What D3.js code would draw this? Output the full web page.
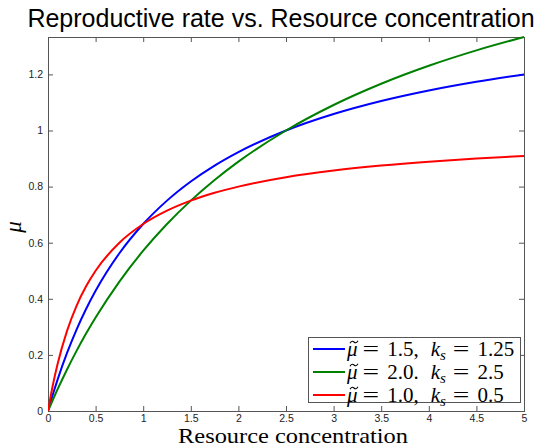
<!DOCTYPE html>
<html>
<head>
<meta charset="utf-8">
<script src="https://cdn.jsdelivr.net/npm/d3@7"></script>
<style>
  html, body { margin: 0; padding: 0; background: #fff; }
  svg { display: block; }
</style>
</head>
<body>
<script>
// Resource concentration samples
const resource = [0, 0.05, 0.1, 0.2, 0.3, 0.4, 0.5, 0.75, 1, 1.25, 1.5, 1.75, 2, 2.5, 3, 3.5, 4, 4.5, 5];

// Reproductive rate for each parameter set
const muBlue  = [0, 0.0577, 0.1111, 0.2069, 0.2903, 0.3636, 0.4286, 0.5625, 0.6667, 0.75, 0.8182, 0.875, 0.9231, 1.0, 1.0588, 1.1053, 1.1429, 1.1739, 1.2];
const muGreen = [0, 0.0392, 0.0769, 0.1481, 0.2143, 0.2759, 0.3333, 0.4615, 0.5714, 0.6667, 0.75, 0.8235, 0.8889, 1.0, 1.0909, 1.1667, 1.2308, 1.2857, 1.3333];
const muRed   = [0, 0.0909, 0.1667, 0.2857, 0.375, 0.4444, 0.5, 0.6, 0.6667, 0.7143, 0.75, 0.7778, 0.8, 0.8333, 0.8571, 0.875, 0.8889, 0.9, 0.9091];

// Legend entries: μ̃ value, separator, k_s value
const legendMu  = ["1.5", "2.0", "1.0"];
const legendSep = [",", ".", ","];
const legendKs  = ["1.25", "2.5", "0.5"];

const seriesColors = ["#0000ff", "#008000", "#ff0000"];
const seriesValues = [muBlue, muGreen, muRed];

const xTicks = [0, 0.5, 1, 1.5, 2, 2.5, 3, 3.5, 4, 4.5, 5];
const yTicks = [0, 0.2, 0.4, 0.6, 0.8, 1, 1.2];

const W = 542, H = 448;
const plot = { left: 48, right: 524, top: 37, bottom: 411 };

const svg = d3.select("body").append("svg").attr("width", W).attr("height", H);

const x = d3.scaleLinear().domain([0, 5]).range([plot.left, plot.right]);
const y = d3.scaleLinear().domain([0, 4 / 3]).range([plot.bottom, plot.top]);

const axisColor = "#555";
const sans = "Liberation Sans, Arial, sans-serif";
const serif = "Liberation Serif, 'Times New Roman', serif";

// Title
svg.append("text")
  .attr("x", 281).attr("y", 27)
  .attr("text-anchor", "middle")
  .attr("font-family", sans)
  .attr("font-size", 25)
  .attr("fill", "#000")
  .text("Reproductive rate vs. Resource concentration");

// Axes with inward ticks on all four sides
function styleAxis(g) {
  g.select(".domain").remove();
  g.selectAll(".tick line").attr("stroke", axisColor).attr("stroke-width", 1);
  g.selectAll(".tick text").attr("font-family", sans).attr("font-size", 10.5).attr("fill", "#222");
}

svg.append("g").attr("transform", `translate(0,${plot.bottom})`)
  .call(d3.axisBottom(x).tickValues(xTicks).tickFormat(d3.format("")).tickSize(-5).tickPadding(4))
  .call(styleAxis);
svg.append("g").attr("transform", `translate(0,${plot.top})`)
  .call(d3.axisTop(x).tickValues(xTicks).tickFormat("").tickSize(-5))
  .call(styleAxis);
svg.append("g").attr("transform", `translate(${plot.left},0)`)
  .call(d3.axisLeft(y).tickValues(yTicks).tickFormat(d3.format("")).tickSize(-5).tickPadding(5))
  .call(styleAxis);
svg.append("g").attr("transform", `translate(${plot.right},0)`)
  .call(d3.axisRight(y).tickValues(yTicks).tickFormat("").tickSize(-5))
  .call(styleAxis);

// Frame
svg.append("rect")
  .attr("x", plot.left + 0.5).attr("y", plot.top + 0.5)
  .attr("width", plot.right - plot.left).attr("height", plot.bottom - plot.top)
  .attr("fill", "none").attr("stroke", axisColor).attr("stroke-width", 1);

// Curves
svg.append("clipPath").attr("id", "plotClip")
  .append("rect").attr("x", plot.left).attr("y", plot.top - 2)
  .attr("width", plot.right - plot.left + 1).attr("height", plot.bottom - plot.top + 3);

const line = d3.line()
  .x((d, i) => x(resource[i]))
  .y(d => y(d))
  .curve(d3.curveMonotoneX);

svg.append("g").attr("clip-path", "url(#plotClip)")
  .selectAll("path").data(seriesValues).join("path")
  .attr("d", line)
  .attr("fill", "none")
  .attr("stroke", (d, i) => seriesColors[i])
  .attr("stroke-width", 2);

// Axis labels
svg.append("text")
  .attr("x", 178).attr("y", 443)
  .attr("font-family", serif)
  .attr("font-size", 21)
  .attr("textLength", 230)
  .attr("lengthAdjust", "spacingAndGlyphs")
  .attr("fill", "#000")
  .text("Resource concentration");

svg.append("text")
  .attr("transform", "translate(21,227) rotate(-90)")
  .attr("text-anchor", "middle")
  .attr("font-family", serif)
  .attr("font-style", "italic")
  .attr("font-size", 23)
  .attr("fill", "#000")
  .text("μ");

// Legend
const legend = svg.append("g");
legend.append("rect")
  .attr("x", 308.5).attr("y", 337.5).attr("width", 212).attr("height", 65)
  .attr("fill", "#fff").attr("stroke", axisColor).attr("stroke-width", 1);

const rowY = [349, 372, 395];
const fs = 21;

// Lay out one piece of math text after the cursor and return the new cursor
function piece(g, cx, baseY, str, opts = {}) {
  const t = g.append("text")
    .attr("y", baseY + (opts.dy || 0))
    .attr("font-family", serif)
    .attr("font-size", opts.size || fs)
    .attr("font-style", opts.italic ? "italic" : "normal")
    .attr("fill", "#000")
    .text(str);
  const sx = opts.scaleX || 1;
  t.attr("transform", `translate(${cx},0) scale(${sx},1)`);
  const w = t.node().getComputedTextLength() * sx;
  return cx + w;
}

// Small tilde accent drawn as a wave
function tilde(g, x0, y0) {
  const p = d3.path();
  p.moveTo(x0, y0 + 1.2);
  p.bezierCurveTo(x0 + 1.5, y0 - 1.5, x0 + 3, y0 - 1, x0 + 4, y0);
  p.bezierCurveTo(x0 + 5, y0 + 1, x0 + 6.5, y0 + 1.5, x0 + 8, y0 - 1.2);
  g.append("path").attr("d", p.toString())
    .attr("fill", "none").attr("stroke", "#000").attr("stroke-width", 1.1);
}

legendMu.forEach((mu, i) => {
  const ly = rowY[i];
  const base = ly + 7;
  legend.append("line")
    .attr("x1", 313).attr("x2", 345)
    .attr("y1", ly).attr("y2", ly)
    .attr("stroke", seriesColors[i]).attr("stroke-width", 2);
  const row = legend.append("g");
  let cx = 347;
  const muStart = cx;
  cx = piece(row, cx, base, "μ", { italic: true });
  tilde(row, muStart + 3, base - 14);
  cx += 5;
  cx = piece(row, cx, base, "=", { scaleX: 1.4 });
  cx += 8;
  cx = piece(row, cx, base, mu + legendSep[i]);
  cx += 12;
  cx = piece(row, cx, base, "k", { italic: true });
  cx = piece(row, cx, base, "s", { italic: true, size: 15, dy: 4 });
  cx += 7;
  cx = piece(row, cx, base, "=", { scaleX: 1.4 });
  cx += 8;
  piece(row, cx, base, legendKs[i]);
});
</script>
</body>
</html>
